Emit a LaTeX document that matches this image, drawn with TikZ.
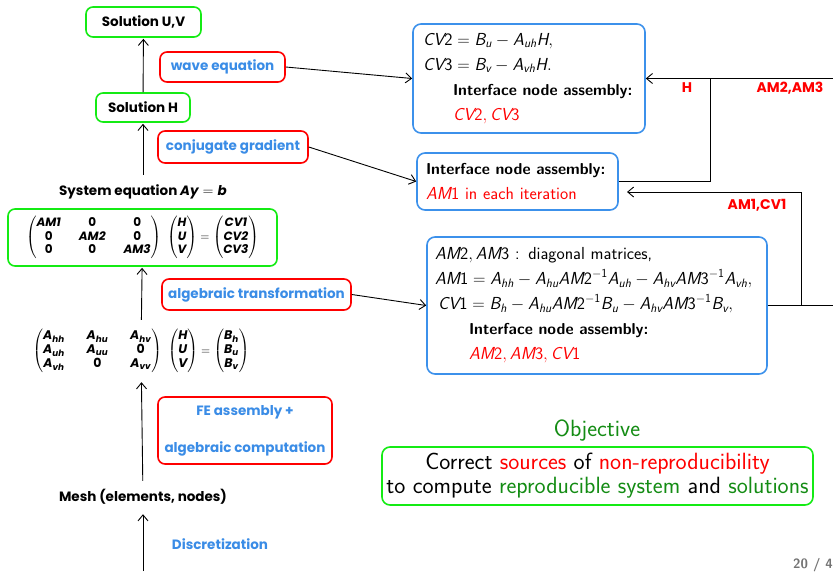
\documentclass[tikz,border=0pt]{standalone}
\usepackage{amsmath}
\usepackage{fontspec}
\usetikzlibrary{arrows.meta}
\newfontfamily\poppinsfam{Poppins}
\newcommand\lbl{\poppinsfam\bfseries}
\newcommand\bi[1]{\text{\lbl\itshape #1}}
\newcommand\bu[1]{\text{\lbl\upshape #1}}
\newcommand\sv[1]{\text{\sffamily\mdseries\itshape #1}}
\newcommand\sn[1]{\text{\sffamily\mdseries\upshape #1}}
\newcommand\sbf[1]{{\fontsize{15.8}{25}\selectfont\bfseries #1}}
\definecolor{bgreen}{RGB}{20,235,20}
\definecolor{lblue}{RGB}{58,140,230}
\definecolor{bblue}{RGB}{60,145,235}
\definecolor{ogreen}{RGB}{20,140,20}
\tikzset{
  lblfont/.style={font=\lbl\fontsize{13.5}{16}\selectfont},
  gbox/.style={draw=bgreen, line width=1.6pt, rounded corners=7pt, inner sep=0pt, lblfont},
  rbox/.style={draw=red, line width=1.6pt, rounded corners=7pt, inner sep=0pt, lblfont, text=lblue},
  bbox/.style={draw=bblue, line width=1.6pt, rounded corners=8pt, align=left,
     font=\sffamily\fontsize{17.4}{25}\selectfont},
  plain/.style={inner sep=0pt, lblfont},
  redlbl/.style={inner sep=0pt, font=\lbl\fontsize{14}{16}\selectfont, text=red},
  arr/.style={-{Straight Barb[length=6pt,width=10pt]}, line width=0.9pt},
  conn/.style={line width=0.9pt}
}
\begin{document}
\begin{tikzpicture}[x=1pt,y=-1pt]
\useasboundingbox (0,0) rectangle (833,571);

% left column
\node[gbox, minimum width=115, minimum height=30] (solUV) at (143.5,22) {Solution U,V};
\node[rbox, minimum width=125, minimum height=30] (wave) at (222.5,67) {wave equation};
\node[gbox, minimum width=94, minimum height=29] (solH) at (143,107.5) {Solution H};
\node[rbox, minimum width=150, minimum height=32] (cg) at (233,147) {conjugate gradient};
\node[plain, minimum height=34] (syseq) at (143,192) {System equation \bi{Ay}$\;=\;$\bi{b}};
\node[gbox, minimum width=269, minimum height=57, font=\fontsize{12}{13.5}\selectfont] (mat1) at (142.5,237.5)
 {$\setlength\arraycolsep{9pt}\begin{pmatrix}\bi{AM1}&\bu{0}&\bu{0}\\ \bu{0}&\bi{AM2}&\bu{0}\\ \bu{0}&\bu{0}&\bi{AM3}\end{pmatrix}\hspace{4pt}\begin{pmatrix}\bi{H}\\ \bi{U}\\ \bi{V}\end{pmatrix}=\begin{pmatrix}\bi{CV1}\\ \bi{CV2}\\ \bi{CV3}\end{pmatrix}$};
\node[rbox, minimum width=189, minimum height=31] (alg) at (256.5,294.5) {algebraic transformation};
\node[inner sep=0pt, minimum height=62, font=\fontsize{12.5}{14}\selectfont] (mat2) at (141,351)
 {$\setlength\arraycolsep{11pt}\begin{pmatrix}\bi{A}_{\bi{hh}}&\bi{A}_{\bi{hu}}&\bi{A}_{\bi{hv}}\\ \bi{A}_{\bi{uh}}&\bi{A}_{\bi{uu}}&\bu{0}\\ \bi{A}_{\bi{vh}}&\bu{0}&\bi{A}_{\bi{vv}}\end{pmatrix}\hspace{4pt}\begin{pmatrix}\bi{H}\\ \bi{U}\\ \bi{V}\end{pmatrix}=\begin{pmatrix}\bi{B}_{\bi{h}}\\ \bi{B}_{\bi{u}}\\ \bi{B}_{\bi{v}}\end{pmatrix}$};
\node[rbox, minimum width=174, minimum height=67, align=center] (fe) at (245,430.5) {FE assembly +\\[21pt]algebraic computation};
\node[plain, minimum height=34] (mesh) at (143,497) {Mesh (elements, nodes)};
\node[plain, text=lblue] (disc) at (220,544) {Discretization};
\coordinate (bot) at (143,571);

\draw[arr, shorten >=1pt] (solH) -- (solUV);
\draw[arr, shorten >=1pt] (syseq) -- (solH);
\draw[arr, shorten >=1pt] (mat2) -- (mat1);
\draw[arr, shorten <=-1pt] (mesh) -- (mat2);
\draw[arr] (bot) -- (mesh);

% right boxes
\node[bbox, text width=212, inner xsep=10, minimum height=109] (box1) at (529,78.5)
 {$\sv{CV}\sn{2} = \sv{B}_{\sv{u}} - \sv{A}_{\sv{uh}}\sv{H},$\\
  $\sv{CV}\sn{3} = \sv{B}_{\sv{v}} - \sv{A}_{\sv{vh}}\sv{H}.$\\
  \hspace*{30pt}\sbf{Interface node assembly:}\\
  \hspace*{30pt}\textcolor{red}{$\sv{CV}\sn{2}, \sv{CV}\sn{3}$}};
\node[bbox, text width=183, inner xsep=9, minimum height=57] (box2) at (517.5,181.5)
 {\sbf{Interface node assembly:}\\
  \textcolor{red}{$\sv{AM}\sn{1}$ in each iteration}};
\node[bbox, text width=324, inner xsep=8, minimum height=137] (box3) at (597,305.5)
 {$\sv{AM}\sn{2}, \sv{AM}\sn{3}$ : diagonal matrices,\\
  $\sv{AM}\sn{1} = \sv{A}_{\sv{hh}} - \sv{A}_{\sv{hu}}\sv{AM}\sn{2}^{-\sn{1}}\sv{A}_{\sv{uh}} - \sv{A}_{\sv{hv}}\sv{AM}\sn{3}^{-\sn{1}}\sv{A}_{\sv{vh}},$\\
  \hspace*{3pt}$\sv{CV}\sn{1} = \sv{B}_{\sv{h}} - \sv{A}_{\sv{hu}}\sv{AM}\sn{2}^{-\sn{1}}\sv{B}_{\sv{u}} - \sv{A}_{\sv{hv}}\sv{AM}\sn{3}^{-\sn{1}}\sv{B}_{\sv{v}},$\\
  \hspace*{34pt}\sbf{Interface node assembly:}\\
  \hspace*{34pt}\textcolor{red}{$\sv{AM}\sn{2}, \sv{AM}\sn{3}, \sv{CV}\sn{1}$}};

\draw[arr] (wave.east) -- (box1.west);
\draw[arr] (cg.east) -- (box2.west);
\draw[arr] (alg.east) -- (box3.west);

\coordinate (hj) at (710,78.5);
\coordinate (r1) at (833,78.5);
\coordinate (r3) at (833,305.5);
\coordinate (v3) at (801,305.5);
\coordinate (t2) at (627,192);
\draw[conn] (box2.east) -| (hj);
\draw[arr] (r1) -- (box1.east);
\draw[conn] (box3.east) -- (r3);
\draw[arr] (v3) |- (t2);
\node[redlbl] (lH) at (687,88) {H};
\node[redlbl] (lAM23) at (790,88) {AM2,AM3};
\node[redlbl] (lAM1) at (757,205) {AM1,CV1};

% objective
\node[inner sep=0pt, text=ogreen, font=\sffamily\fontsize{23.5}{26}\selectfont] (obj) at (597,431) {Objective};
\node[draw=bgreen, line width=1.6pt, rounded corners=8pt, inner sep=0pt, minimum width=431, minimum height=58,
  align=center, font=\sffamily\fontsize{23.5}{24}\selectfont] (objbox) at (597.5,476)
 {Correct \textcolor{red}{sources} of \textcolor{red}{non-reproducibility}\\to compute \textcolor{ogreen}{reproducible system} and \textcolor{ogreen}{solutions}};

\node[anchor=west, inner sep=0pt, text=black!55, font=\sffamily\bfseries\fontsize{13.5}{15}\selectfont] (page) at (793,565) {20 / 47};
\end{tikzpicture}
\end{document}
